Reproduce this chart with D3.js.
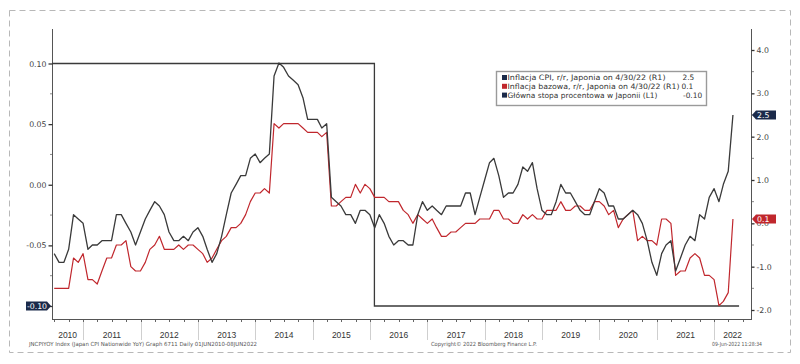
<!DOCTYPE html>
<html>
<head>
<meta charset="utf-8">
<script src="https://cdn.jsdelivr.net/npm/d3@7"></script>
<style>
    body { margin: 0; background: #fff; }
    svg { display: block; }
</style>
</head>
<body>
<div id="chart"></div>
<script>
// Monthly values, month-end points from Jun 2010 to Apr 2022
const firstMonth = [2010, 5];

const cpiValues = [
    -0.7, -0.9, -0.9, -0.6, 0.2, 0.1, 0.0,
    -0.6, -0.5, -0.5, -0.4, -0.4, -0.4, 0.2, 0.2, 0.0, -0.2, -0.5, -0.2,
    0.1, 0.3, 0.5, 0.4, 0.2, -0.2, -0.4, -0.4, -0.3, -0.4, -0.2, -0.1,
    -0.3, -0.6, -0.9, -0.7, -0.3, 0.2, 0.7, 0.9, 1.1, 1.1, 1.5, 1.6,
    1.4, 1.5, 1.6, 3.4, 3.7, 3.6, 3.4, 3.3, 3.2, 2.9, 2.4, 2.4,
    2.4, 2.2, 2.3, 0.6, 0.5, 0.4, 0.2, 0.2, 0.0, 0.3, 0.3, 0.2,
    -0.1, 0.2, 0.0, -0.3, -0.5, -0.4, -0.4, -0.5, -0.5, 0.2, 0.5, 0.3,
    0.4, 0.3, 0.2, 0.4, 0.4, 0.4, 0.4, 0.7, 0.7, 0.2, 0.6, 1.0,
    1.4, 1.5, 1.1, 0.6, 0.7, 0.7, 0.9, 1.3, 1.2, 1.4, 0.8, 0.3,
    0.2, 0.2, 0.5, 0.9, 0.7, 0.7, 0.5, 0.3, 0.2, 0.2, 0.5, 0.8,
    0.7, 0.4, 0.4, 0.1, 0.1, 0.2, 0.3, 0.2, 0.0, -0.4, -0.9, -1.2,
    -0.7, -0.5, -0.4, -1.1, -0.8, -0.5, -0.3, -0.4, 0.2, 0.1, 0.6, 0.8,
    0.5, 0.9, 1.2, 2.5
];

const coreValues = [
    -1.5, -1.5, -1.5, -1.5, -0.8, -0.9, -0.7,
    -1.3, -1.3, -1.4, -1.1, -0.8, -0.8, -0.5, -0.5, -0.4, -1.0, -1.1, -1.1,
    -0.9, -0.6, -0.5, -0.3, -0.6, -0.6, -0.6, -0.5, -0.6, -0.5, -0.5, -0.6,
    -0.7, -0.9, -0.8, -0.6, -0.4, -0.3, -0.1, -0.1, 0.0, 0.2, 0.5, 0.7,
    0.7, 0.8, 0.7, 2.3, 2.2, 2.3, 2.3, 2.3, 2.3, 2.2, 2.1, 2.1,
    2.1, 2.0, 2.1, 0.4, 0.4, 0.5, 0.6, 0.6, 0.9, 0.7, 0.9, 0.8,
    0.6, 0.6, 0.6, 0.5, 0.5, 0.5, 0.3, 0.2, 0.0, 0.2, 0.1, 0.0,
    0.1, -0.1, -0.3, -0.3, -0.2, -0.2, -0.1, 0.0, 0.0, 0.0, 0.1, 0.1,
    0.1, 0.3, 0.3, 0.1, 0.1, 0.0, 0.0, 0.2, 0.1, 0.2, 0.1, 0.1,
    0.3, 0.3, 0.3, 0.5, 0.3, 0.3, 0.4, 0.4, 0.3, 0.3, 0.5, 0.5,
    0.4, 0.2, 0.3, -0.1, 0.1, 0.2, 0.3, -0.4, -0.3, -0.4, -0.4, -0.5,
    0.1, 0.1, 0.0, -1.2, -1.1, -1.1, -0.8, -0.7, -0.8, -1.2, -1.2, -1.3,
    -1.9, -1.8, -1.6, 0.1
];

// Policy rate (left axis), step changes
const policyDates = ["2010-06-16", "2016-01-29", "2022-06-08"];
const policyValues = [0.10, -0.10, -0.10];

const yearLabels = [2010, 2011, 2012, 2013, 2014, 2015, 2016, 2017, 2018, 2019, 2020, 2021, 2022];
const leftTicks = [-0.10, -0.05, 0.00, 0.05, 0.10];
const rightTicks = [-2, -1, 0, 1, 2, 3, 4];

const legendLabels = [
    "Inflacja CPI, r/r, Japonia on 4/30/22 (R1)",
    "Inflacja bazowa, r/r, Japonia on 4/30/22 (R1)",
    "Główna stopa procentowa w Japonii (L1)"
];
const legendValues = ["2.5", "0.1", "-0.10"];

const footerLeft = "JNCPIYOY Index (Japan CPI Nationwide YoY) Graph 6711  Daily 01JUN2010-08JUN2022";
const footerMid = "Copyright\u00A9 2022 Bloomberg Finance L.P.";
const footerRight = "09-Jun-2022 11:28:34";

const NAVY = "#1b2a4a";
const RED = "#c0272d";
const LINE_DARK = "#3a3a3a";

class CpiChart {
    constructor() {
        this.width = 800;
        this.height = 364;
        this.plot = { left: 52, right: 751, top: 29, bottom: 319 };
        this.initVis();
    }

    initVis() {
        const p = this.plot;
        this.svg = d3.select("#chart").append("svg")
            .attr("width", this.width)
            .attr("height", this.height);

        // dashed outer frame
        this.svg.append("rect")
            .attr("x", 9.5).attr("y", 10.5)
            .attr("width", 781).attr("height", 342)
            .attr("fill", "none")
            .attr("stroke", "#b8b8b8")
            .attr("stroke-dasharray", "6,4");

        this.x = d3.scaleTime()
            .domain([new Date(2010, 5, 16), new Date(2022, 7, 23)])
            .range([p.left, p.right]);
        this.yL = d3.scaleLinear().domain([-0.10, 0.10]).range([306, 63.5]);
        this.yR = d3.scaleLinear().domain([-2, 4]).range([310, 50]);

        this.monthDates = cpiValues.map((_, i) =>
            new Date(firstMonth[0], firstMonth[1] + i + 1, 0));

        this.drawAxes();
        this.drawLines();
        this.drawTags();
        this.drawLegend();
        this.drawFooter();
    }

    drawAxes() {
        const p = this.plot;
        const g = this.svg.append("g").attr("class", "axes");

        // year separators below the axis
        const yearStarts = d3.timeYear.range(new Date(2011, 0, 1), new Date(2023, 0, 1));
        g.selectAll("line.sep").data(yearStarts).join("line")
            .attr("x1", d => Math.round(this.x(d)) + 0.5)
            .attr("x2", d => Math.round(this.x(d)) + 0.5)
            .attr("y1", p.bottom).attr("y2", 340)
            .attr("stroke", "#cfcfcf");

        // quarterly ticks
        const quarters = d3.timeMonth.every(3).range(new Date(2010, 6, 1), new Date(2022, 7, 1));
        g.selectAll("line.q").data(quarters).join("line")
            .attr("x1", d => Math.round(this.x(d)) + 0.5)
            .attr("x2", d => Math.round(this.x(d)) + 0.5)
            .attr("y1", p.bottom).attr("y2", p.bottom + 3)
            .attr("stroke", "#666");

        // year labels, centred in the visible part of each year
        g.selectAll("text.year").data(yearLabels).join("text")
            .attr("x", d => {
                const a = Math.max(this.x(new Date(d, 0, 1)), p.left);
                const b = Math.min(this.x(new Date(d + 1, 0, 1)), p.right);
                return (a + b) / 2;
            })
            .attr("y", 338)
            .attr("text-anchor", "middle")
            .attr("font-family", "Liberation Sans, Arial, sans-serif")
            .attr("font-size", 8.5)
            .attr("fill", "#333")
            .text(d => d);

        // frame lines
        g.append("line").attr("x1", p.left + 0.5).attr("x2", p.left + 0.5)
            .attr("y1", p.top).attr("y2", p.bottom).attr("stroke", "#555");
        g.append("line").attr("x1", p.right + 0.5).attr("x2", p.right + 0.5)
            .attr("y1", p.top).attr("y2", p.bottom).attr("stroke", "#555");
        g.append("line").attr("x1", p.left).attr("x2", p.right + 1)
            .attr("y1", p.bottom + 0.5).attr("y2", p.bottom + 0.5).attr("stroke", "#555");

        // left axis
        const left = g.append("g").attr("transform", `translate(${p.left + 0.5},0)`);
        left.call(d3.axisLeft(this.yL).tickValues(leftTicks).tickSize(4).tickPadding(2)
            .tickFormat(d3.format(".2f")));
        left.select(".domain").remove();
        left.selectAll(".tick line").attr("stroke", "#333").attr("stroke-width", 1.3);
        left.selectAll("text").attr("font-family", "DejaVu Sans, sans-serif")
            .attr("font-size", 7.8).attr("fill", "#444");
        const leftMinor = d3.range(-0.075, 0.1, 0.05);
        g.selectAll("line.lm").data(leftMinor).join("line")
            .attr("x1", p.left - 2).attr("x2", p.left)
            .attr("y1", d => this.yL(d)).attr("y2", d => this.yL(d))
            .attr("stroke", "#888");

        // right axis
        const right = g.append("g").attr("transform", `translate(${p.right + 0.5},0)`);
        right.call(d3.axisRight(this.yR).tickValues(rightTicks).tickSize(3).tickPadding(2)
            .tickFormat(d3.format(".1f")));
        right.select(".domain").remove();
        right.selectAll(".tick line").attr("stroke", "#333").attr("stroke-width", 1.3);
        right.selectAll("text").attr("font-family", "DejaVu Sans, sans-serif")
            .attr("font-size", 7.8).attr("fill", "#444")
            .text(d => d3.format(".1f")(d).replace("\u2212", "-"));
        const rightMinor = d3.range(-1.5, 4, 1);
        g.selectAll("line.rm").data(rightMinor).join("line")
            .attr("x1", p.right + 1).attr("x2", p.right + 3)
            .attr("y1", d => this.yR(d)).attr("y2", d => this.yR(d))
            .attr("stroke", "#888");

        left.selectAll("text").text(d => d3.format(".2f")(d).replace("\u2212", "-"));
    }

    drawLines() {
        const g = this.svg.append("g").attr("class", "lines");

        // policy rate step line (L1)
        const policy = policyDates.map((d, i) => ({ date: new Date(d), value: policyValues[i] }));
        g.append("path")
            .datum(policy)
            .attr("fill", "none")
            .attr("stroke", LINE_DARK)
            .attr("stroke-width", 1.3)
            .attr("d", d3.line().curve(d3.curveStepAfter)
                .x(d => this.x(d.date)).y(d => this.yL(d.value)));

        const line = d3.line().x(d => this.x(d.date)).y(d => this.yR(d.value));

        const core = coreValues.map((v, i) => ({ date: this.monthDates[i], value: v }));
        g.append("path").datum(core)
            .attr("fill", "none").attr("stroke", RED).attr("stroke-width", 1.2)
            .attr("stroke-linejoin", "round")
            .attr("d", line);

        const cpi = cpiValues.map((v, i) => ({ date: this.monthDates[i], value: v }));
        g.append("path").datum(cpi)
            .attr("fill", "none").attr("stroke", LINE_DARK).attr("stroke-width", 1.3)
            .attr("stroke-linejoin", "round")
            .attr("d", line);
    }

    drawTags() {
        const p = this.plot;
        const g = this.svg.append("g").attr("class", "tags");
        const h = 4.6;

        // right side last values
        const rightTags = [
            { value: cpiValues[cpiValues.length - 1], color: NAVY },
            { value: coreValues[coreValues.length - 1], color: RED }
        ];
        rightTags.forEach(t => {
            const c = this.yR(t.value);
            const x0 = p.right + 1;
            g.append("polygon")
                .attr("points", [[x0, c], [x0 + 4, c - h], [x0 + 24, c - h], [x0 + 24, c + h], [x0 + 4, c + h]].join(" "))
                .attr("fill", t.color);
            g.append("text")
                .attr("x", x0 + 5).attr("y", c + 3)
                .attr("font-family", "DejaVu Sans, sans-serif")
                .attr("font-size", 7.8).attr("fill", "#fff")
                .text(d3.format(".1f")(t.value));
        });

        // left side policy rate
        const lv = policyValues[policyValues.length - 1];
        const c = this.yL(lv);
        const x1 = p.left - 1;
        g.append("polygon")
            .attr("points", [[x1, c], [x1 - 4, c - h], [x1 - 25, c - h], [x1 - 25, c + h], [x1 - 4, c + h]].join(" "))
            .attr("fill", NAVY);
        g.append("text")
            .attr("x", x1 - 14).attr("y", c + 3)
            .attr("text-anchor", "middle")
            .attr("font-family", "DejaVu Sans, sans-serif")
            .attr("font-size", 7.8).attr("fill", "#fff")
            .text(d3.format(".2f")(lv).replace("\u2212", "-"));
    }

    drawLegend() {
        const g = this.svg.append("g").attr("class", "legend")
            .attr("transform", "translate(496,71)");
        g.append("rect")
            .attr("x", 0.5).attr("y", 0.5)
            .attr("width", 210).attr("height", 34)
            .attr("fill", "#fff")
            .attr("stroke", "#9a9a9a").attr("stroke-width", 1.4);

        const colors = [NAVY, RED, NAVY];
        const widths = [158, 172, 150];
        const rows = g.selectAll("g.row").data(legendLabels).join("g")
            .attr("transform", (d, i) => `translate(0,${9 + i * 8.8})`);
        rows.append("rect")
            .attr("x", 6).attr("y", -5)
            .attr("width", 5).attr("height", 5)
            .attr("fill", (d, i) => colors[i]);
        rows.append("text")
            .attr("x", 11.5).attr("y", 0)
            .attr("font-family", "DejaVu Sans, sans-serif")
            .attr("font-size", 7.4).attr("fill", "#333")
            .attr("textLength", (d, i) => widths[i])
            .attr("lengthAdjust", "spacingAndGlyphs")
            .text(d => d);
        rows.append("text")
            .attr("x", (d, i) => [186.5, 185.5, 187][i]).attr("y", 0)
            .attr("font-family", "DejaVu Sans, sans-serif")
            .attr("font-size", 7.4).attr("fill", "#333")
            .text((d, i) => legendValues[i]);
    }

    drawFooter() {
        const g = this.svg.append("g").attr("class", "footer")
            .attr("font-family", "DejaVu Sans, sans-serif")
            .attr("font-size", 5.6).attr("fill", "#555");
        const items = [
            { text: footerLeft, x: 29, w: 228 },
            { text: footerMid, x: 431, w: 106 },
            { text: footerRight, x: 712, w: 50 }
        ];
        g.selectAll("text").data(items).join("text")
            .attr("x", d => d.x).attr("y", 346)
            .attr("textLength", d => d.w)
            .attr("lengthAdjust", "spacingAndGlyphs")
            .text(d => d.text);
    }
}

new CpiChart();
</script>
</body>
</html>
